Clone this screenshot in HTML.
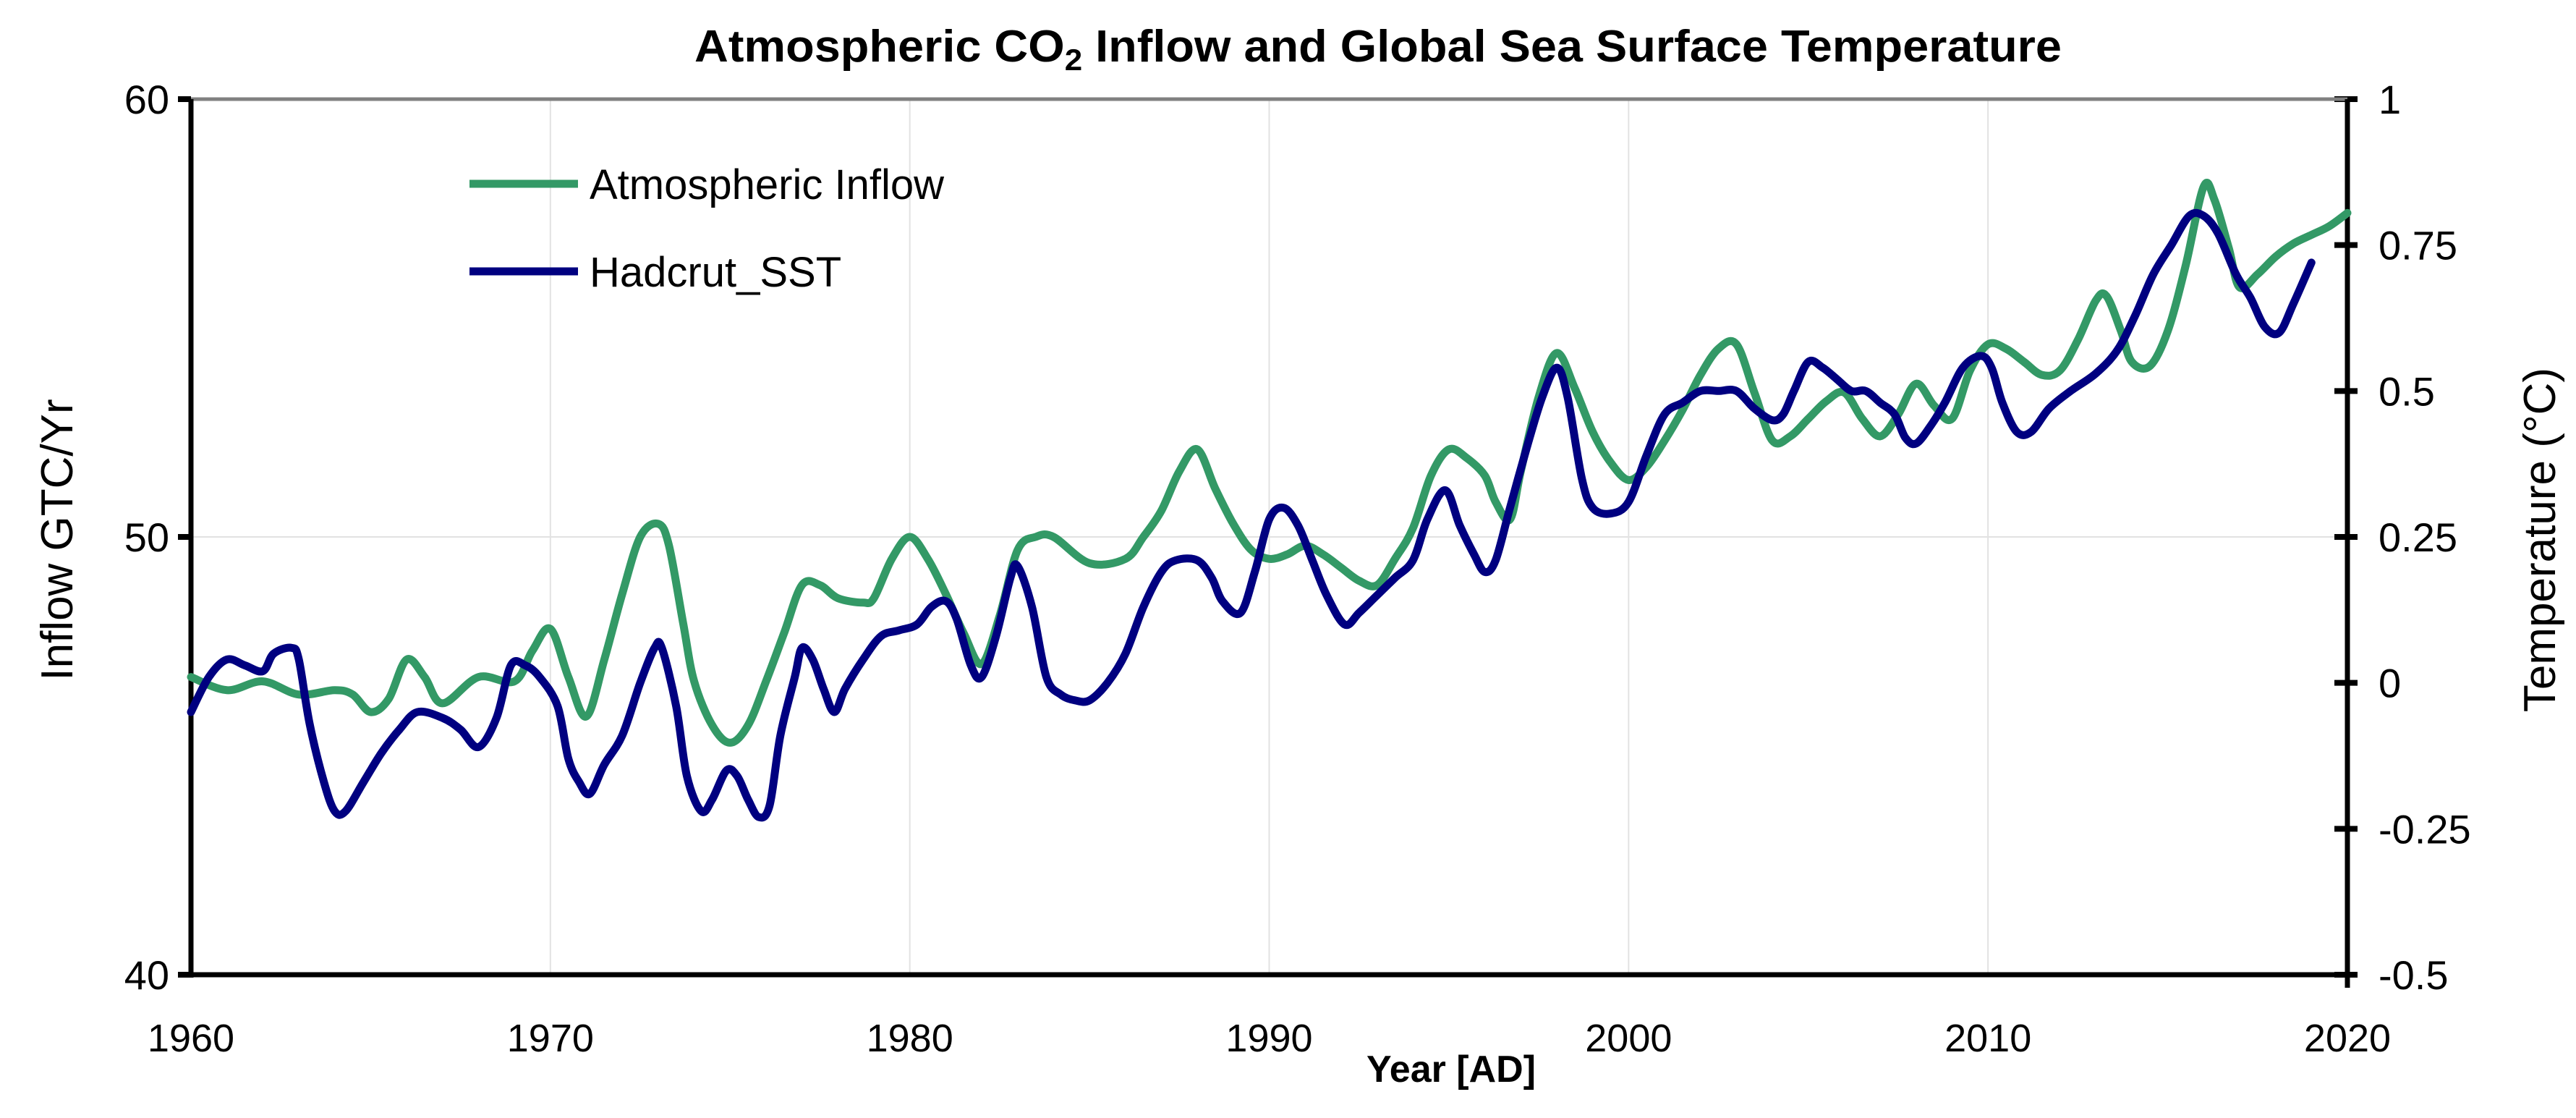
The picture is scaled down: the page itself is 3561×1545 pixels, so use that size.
<!DOCTYPE html>
<html><head><meta charset="utf-8"><style>
html,body{margin:0;padding:0;background:#fff}
svg{display:block}
text{font-family:"Liberation Sans",Arial,sans-serif;fill:#000}
</style></head><body>
<svg id="chart" width="3561" height="1545" viewBox="0 0 3561 1545" xmlns="http://www.w3.org/2000/svg">
<text x="1905" y="85" text-anchor="middle" font-size="62" font-weight="bold" textLength="1890" lengthAdjust="spacingAndGlyphs">Atmospheric CO<tspan font-size="42" dy="12">2</tspan><tspan dy="-12"> Inflow and Global Sea Surface Temperature</tspan></text>
<g id="grid"></g>
<g id="axes"></g>
<g id="series"></g>
<g>
<line x1="649" y1="254" x2="799" y2="254" stroke="#339966" stroke-width="11"/>
<text x="815" y="275" font-size="58">Atmospheric Inflow</text>
<line x1="649" y1="375" x2="799" y2="375" stroke="#000080" stroke-width="11"/>
<text x="815" y="396" font-size="58">Hadcrut_SST</text>
</g>
<text transform="translate(100,746) rotate(-90)" text-anchor="middle" font-size="62">Inflow GTC/Yr</text>
<text transform="translate(3532,746) rotate(-90)" text-anchor="middle" font-size="62">Temperature (°C)</text>
<text x="2006" y="1495" text-anchor="middle" font-size="52" font-weight="bold">Year [AD]</text>
</svg>
<script>
const xTicks=[1960,1970,1980,1990,2000,2010,2020];
const yLeftTicks=[40,50,60];
const yRightTicks=[-0.5,-0.25,0,0.25,0.5,0.75,1];
const yRightLabels=["-0.5","-0.25","0","0.25","0.5","0.75","1"];
const inflowYears=[1960,1961,1962,1963,1964,1964.5,1965,1965.5,1966,1966.5,1967,1968,1969,1969.5,1970,1970.5,1971,1971.5,1972,1972.5,1973,1973.3,1973.7,1974,1974.5,1975,1975.5,1976,1976.5,1977,1977.5,1978,1978.7,1979,1979.5,1980,1980.5,1981,1981.5,1982,1982.5,1983,1983.5,1984,1985,1986,1986.5,1987,1987.5,1988,1988.5,1989,1989.5,1990,1990.5,1991,1991.5,1992,1992.5,1993,1993.5,1994,1994.5,1995,1995.5,1996,1996.3,1996.7,1997,1997.5,1998,1998.5,1999,1999.5,2000,2000.5,2001,2001.5,2002,2002.5,2003,2003.5,2004,2004.5,2005,2005.5,2006,2006.5,2007,2007.5,2008,2008.5,2009,2009.5,2010,2010.5,2011,2011.5,2012,2012.5,2013,2013.3,2013.7,2014,2014.5,2015,2015.5,2016,2016.3,2016.7,2017,2017.5,2018,2018.5,2019,2019.5,2020];
const inflowValues=[46.8,46.5,46.7,46.4,46.5,46.4,46.0,46.3,47.2,46.8,46.2,46.8,46.7,47.4,47.9,46.8,45.9,47.2,48.7,50.0,50.3,49.8,48.0,46.7,45.7,45.3,45.7,46.7,47.8,48.9,48.9,48.6,48.5,48.6,49.5,50.0,49.5,48.7,47.8,47.1,48.2,49.7,50.0,50.0,49.4,49.5,50.0,50.6,51.5,52.0,51.1,50.3,49.7,49.5,49.6,49.8,49.6,49.3,49.0,48.9,49.5,50.2,51.4,52.0,51.8,51.4,50.8,50.4,51.5,53.2,54.2,53.4,52.4,51.7,51.3,51.6,52.2,52.9,53.7,54.3,54.4,53.3,52.2,52.3,52.7,53.1,53.3,52.7,52.3,52.8,53.5,53.0,52.7,53.8,54.4,54.3,54.0,53.7,53.8,54.5,55.4,55.5,54.7,54.0,53.9,54.7,56.2,58.0,57.7,56.6,55.7,56.0,56.4,56.7,56.9,57.1,57.4];
const sstYears=[1960,1960.5,1961,1961.5,1962,1962.3,1962.8,1963,1963.3,1963.7,1964,1964.3,1964.8,1965.3,1965.8,1966.3,1967,1967.5,1968,1968.5,1968.9,1969.3,1969.7,1970.2,1970.5,1970.8,1971.1,1971.5,1972,1972.5,1972.9,1973.1,1973.5,1973.8,1974.2,1974.5,1974.9,1975.2,1975.5,1975.8,1976.1,1976.4,1976.8,1977,1977.3,1977.6,1977.9,1978.2,1978.7,1979.2,1979.7,1980.2,1980.6,1981,1981.3,1981.7,1982,1982.4,1982.8,1983,1983.4,1983.8,1984.2,1984.6,1985,1985.5,1986,1986.5,1987,1987.4,1988,1988.4,1988.7,1989.2,1989.6,1990,1990.4,1990.8,1991.2,1991.6,1992.1,1992.5,1993,1993.5,1994,1994.4,1994.9,1995.3,1995.7,1996,1996.3,1996.7,1997.2,1997.6,1998,1998.3,1998.7,1999,1999.5,2000,2000.5,2001,2001.5,2002,2002.5,2003,2003.5,2004,2004.3,2004.6,2005,2005.4,2005.8,2006.2,2006.6,2007,2007.4,2007.7,2008,2008.4,2008.8,2009.3,2009.8,2010.1,2010.4,2010.8,2011.2,2011.7,2012.3,2013,2013.6,2014.1,2014.6,2015.1,2015.6,2016,2016.4,2016.9,2017.3,2017.7,2018.1,2018.5,2019];
const sstValues=[-0.05,0.01,0.04,0.03,0.02,0.05,0.06,0.04,-0.07,-0.17,-0.22,-0.22,-0.17,-0.12,-0.08,-0.05,-0.06,-0.08,-0.11,-0.06,0.03,0.03,0.01,-0.04,-0.13,-0.17,-0.19,-0.14,-0.09,0.0,0.06,0.06,-0.04,-0.16,-0.22,-0.2,-0.15,-0.16,-0.2,-0.23,-0.21,-0.09,0.01,0.06,0.04,-0.01,-0.05,-0.01,0.04,0.08,0.09,0.10,0.13,0.14,0.11,0.03,0.01,0.08,0.18,0.20,0.13,0.01,-0.02,-0.03,-0.03,0.0,0.05,0.13,0.19,0.21,0.21,0.18,0.14,0.12,0.19,0.28,0.30,0.27,0.21,0.15,0.10,0.12,0.15,0.18,0.21,0.28,0.33,0.27,0.22,0.19,0.21,0.30,0.41,0.49,0.54,0.49,0.35,0.30,0.29,0.31,0.39,0.46,0.48,0.50,0.50,0.50,0.47,0.45,0.46,0.50,0.55,0.54,0.52,0.50,0.50,0.48,0.46,0.42,0.41,0.44,0.48,0.54,0.56,0.54,0.48,0.43,0.43,0.47,0.50,0.53,0.57,0.63,0.70,0.75,0.80,0.80,0.77,0.70,0.66,0.61,0.60,0.65,0.72];

const NS='http://www.w3.org/2000/svg';
const L=264,R=3245,T=137,B=1347;
const xScale=v=>L+(v-1960)/(2020-1960)*(R-L);
const yLeft=v=>B-(v-40)/(60-40)*(B-T);
const yRight=v=>B-(v+0.5)/1.5*(B-T);
function mk(tag,attrs,parent){const e=document.createElementNS(NS,tag);for(const k in attrs)e.setAttribute(k,attrs[k]);parent.appendChild(e);return e;}
const grid=document.getElementById('grid'),axes=document.getElementById('axes'),series=document.getElementById('series');
xTicks.forEach(t=>{
  if(t>1960&&t<2020){const g=mk('line',{x1:xScale(t),x2:xScale(t),y1:T,y2:B,stroke:'#e2e2e2','stroke-width':2},grid);
  
  }
  const tx=mk('text',{x:xScale(t),y:1453,'text-anchor':'middle','font-size':54},axes);tx.textContent=t;
  
  
});
yLeftTicks.forEach(t=>{
  if(t===50){const g=mk('line',{x1:L,x2:R,y1:yLeft(t),y2:yLeft(t),stroke:'#e2e2e2','stroke-width':2},grid);
  
  }
  mk('line',{x1:L-18,x2:L,y1:yLeft(t),y2:yLeft(t),stroke:'#000','stroke-width':8},axes);
  const tx=mk('text',{x:L-30,y:yLeft(t)+20,'text-anchor':'end','font-size':56},axes);tx.textContent=t;
  
  
});
yRightTicks.forEach((t,i)=>{
  mk('line',{x1:R-18,x2:R+14,y1:yRight(t),y2:yRight(t),stroke:'#000','stroke-width':8},axes);
  const tx=mk('text',{x:R+43,y:yRight(t)+20,'font-size':56},axes);tx.textContent=yRightLabels[i];
  
  
});
mk('line',{x1:L,x2:R,y1:T,y2:T,stroke:'#808080','stroke-width':5},axes);
mk('line',{x1:L,x2:L,y1:T,y2:B+4,stroke:'#000','stroke-width':7},axes);
mk('line',{x1:R,x2:R,y1:T,y2:B+18,stroke:'#000','stroke-width':7},axes);
mk('line',{x1:L-3,x2:R,y1:B,y2:B,stroke:'#000','stroke-width':7},axes);
function pathFor(xs,ys,fy){
  const P=xs.map((x,i)=>[xScale(x),fy(ys[i])]);
  let d='M'+P[0][0].toFixed(1)+','+P[0][1].toFixed(1);
  for(let i=0;i<P.length-1;i++){
    const p0=P[Math.max(i-1,0)],p1=P[i],p2=P[i+1],p3=P[Math.min(i+2,P.length-1)];
    const c1=[p1[0]+(p2[0]-p0[0])/6,p1[1]+(p2[1]-p0[1])/6];
    const c2=[p2[0]-(p3[0]-p1[0])/6,p2[1]-(p3[1]-p1[1])/6];
    d+=' C'+c1[0].toFixed(1)+','+c1[1].toFixed(1)+' '+c2[0].toFixed(1)+','+c2[1].toFixed(1)+' '+p2[0].toFixed(1)+','+p2[1].toFixed(1);
  }
  return d;
}
const p1=mk('path',{d:pathFor(inflowYears,inflowValues,yLeft),fill:'none',stroke:'#339966','stroke-width':11,'stroke-linejoin':'round','stroke-linecap':'round'},series);


const p2=mk('path',{d:pathFor(sstYears,sstValues,yRight),fill:'none',stroke:'#000080','stroke-width':11,'stroke-linejoin':'round','stroke-linecap':'round'},series);


</script>
</body></html>
